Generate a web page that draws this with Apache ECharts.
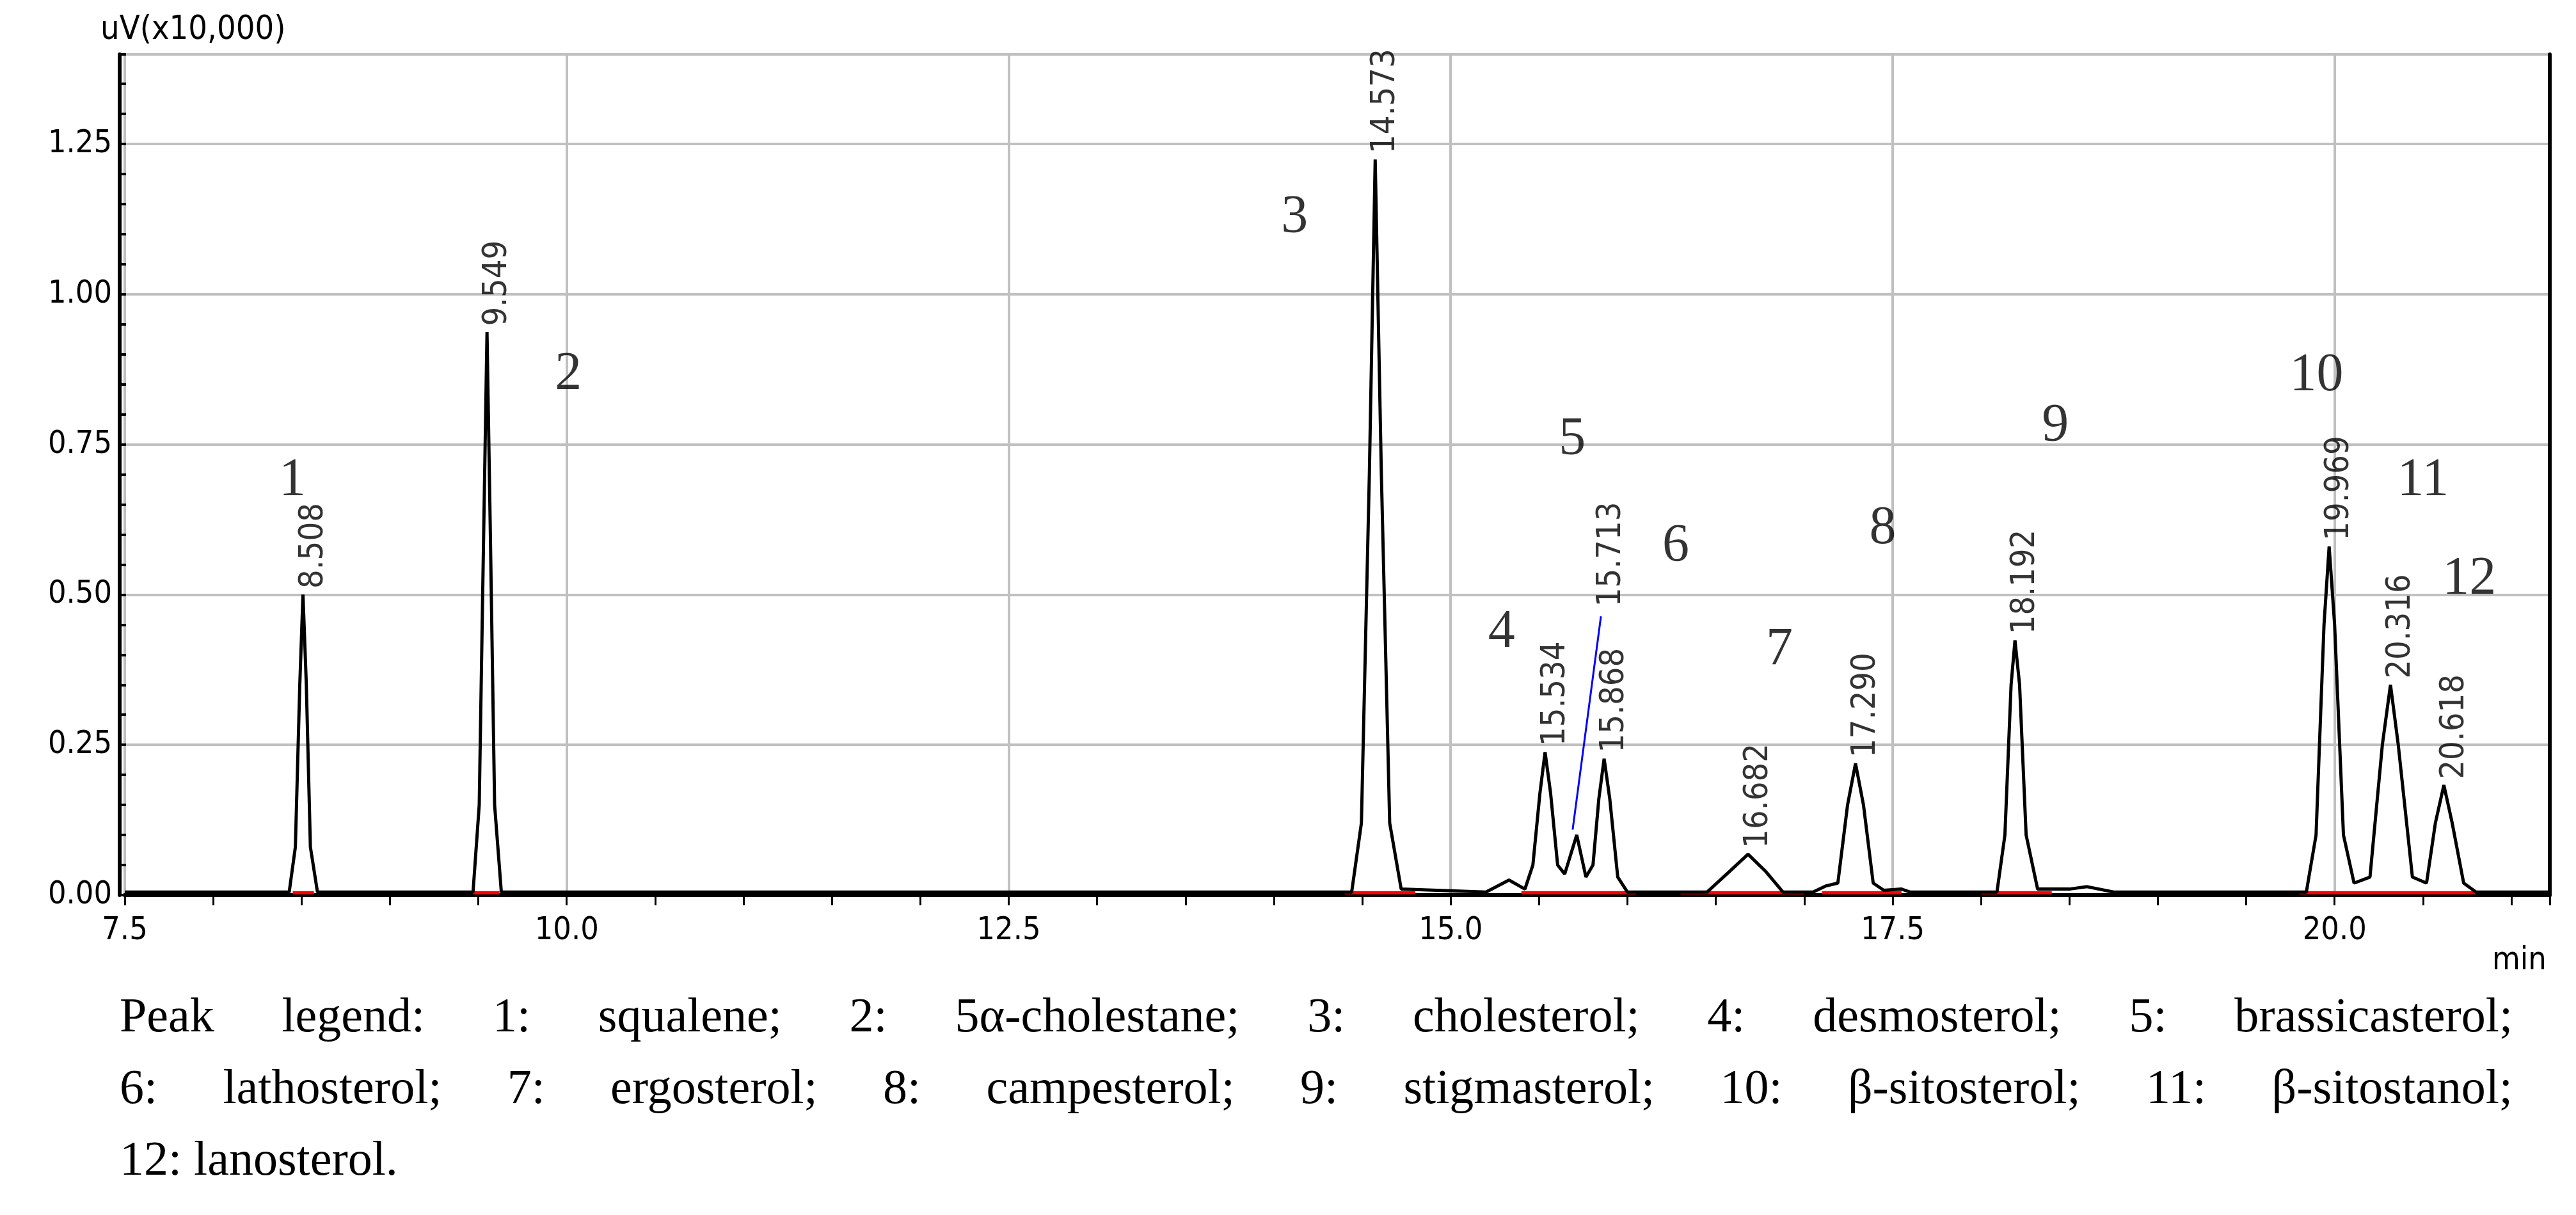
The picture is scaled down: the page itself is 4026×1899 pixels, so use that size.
<!DOCTYPE html>
<html><head><meta charset="utf-8">
<script src="https://cdn.jsdelivr.net/npm/echarts@6/dist/echarts.min.js"></script>
<style>
html,body{margin:0;padding:0;background:#fff;}
#c{position:absolute;left:0;top:0;width:4026px;height:1899px;}
#cap{position:absolute;left:187px;top:1530px;width:3740px;font-family:"Liberation Serif","DejaVu Serif",serif;font-size:76px;line-height:112px;color:#000;}
#cap .j{display:block;text-align:justify;text-align-last:justify;}
</style></head><body>
<div id="c"></div>
<div id="cap"><span class="j">Peak legend: 1: squalene; 2: 5α-cholestane; 3: cholesterol; 4: desmosterol; 5: brassicasterol;</span><span class="j">6: lathosterol; 7: ergosterol; 8: campesterol; 9: stigmasterol; 10: β-sitosterol; 11: β-sitostanol;</span><span>12: lanosterol.</span></div>
<script>
const traceTimes = [7.5,8.43,8.465,8.49,8.508,8.527,8.55,8.59,9.47,9.505,9.53,9.549,9.568,9.592,9.63,
14.44,14.495,14.54,14.573,14.608,14.655,14.72,15.2,15.33,15.42,15.465,15.505,15.534,15.565,15.605,15.645,15.713,15.765,15.805,15.838,15.868,15.9,15.945,16.0,
16.45,16.58,16.682,16.78,16.88,17.05,17.12,17.19,17.245,17.29,17.335,17.39,17.45,17.55,17.6,
18.09,18.135,18.17,18.192,18.218,18.255,18.32,18.5,18.6,18.75,
19.84,19.895,19.94,19.969,20.0,20.05,20.11,20.2,20.27,20.316,20.36,20.44,20.52,20.57,20.618,20.665,20.73,20.8,21.217];
const traceValues = [0.005,0.005,0.08,0.35,0.50,0.35,0.08,0.005,0.005,0.15,0.6,0.937,0.6,0.15,0.005,
0.005,0.12,0.7,1.224,0.7,0.12,0.01,0.005,0.025,0.01,0.05,0.17,0.238,0.17,0.05,0.035,0.10,0.03,0.05,0.16,0.227,0.16,0.03,0.005,
0.005,0.04,0.068,0.04,0.005,0.005,0.015,0.02,0.15,0.219,0.15,0.02,0.008,0.01,0.005,
0.005,0.1,0.35,0.424,0.35,0.1,0.01,0.01,0.014,0.005,
0.005,0.1,0.45,0.58,0.45,0.1,0.02,0.03,0.25,0.35,0.25,0.03,0.02,0.12,0.183,0.12,0.02,0.005,0.005];
const rtLabels = ['8.508','9.549','14.573','15.534','15.713','15.868','16.682','17.290','18.192','19.969','20.316','20.618'];
const rtX = [8.508,9.549,14.573,15.534,15.85,15.868,16.682,17.290,18.192,19.969,20.316,20.618];
const rtY = [0.50,0.937,1.224,0.238,0.47,0.227,0.068,0.219,0.424,0.58,0.35,0.183];
const peakNums = ['1','2','3','4','5','6','7','8','9','10','11','12'];
const peakNumX = [8.448,10.009,14.117,15.288,15.688,16.273,16.859,17.444,18.42,19.898,20.5,20.762];
const peakNumY = [0.689,0.866,1.126,0.437,0.757,0.579,0.407,0.609,0.779,0.863,0.689,0.525];
const redSegs = [[8.45,8.57],[9.47,9.62],[14.4,14.8],[15.4,16.05],[16.3,17.0],[17.1,17.55],[18.0,18.4],[19.8,20.8]];
const blueLine = [[15.69,0.109],[15.85,0.464]];

const trace = traceTimes.map((t,i)=>[t,traceValues[i]]);
const red = [];
redSegs.forEach(s=>{red.push([s[0],0.004]);red.push([s[1],0.004]);red.push([s[1],null]);});
const rt = rtX.map((x,i)=>({value:[x+0.06,rtY[i]+0.01],name:rtLabels[i]}));
const nums = peakNumX.map((x,i)=>({value:[x,peakNumY[i]],name:peakNums[i]}));
const ax = {fontFamily:'DejaVu Sans Condensed, Liberation Sans, sans-serif',fontSize:50,color:'#000'};
const chart = echarts.init(document.getElementById('c'));
chart.setOption({
  animation:false,
  grid:{left:195,right:41,top:85,bottom:500},
  xAxis:[{type:'value',min:7.5,max:21.217,interval:2.5,offset:13,
    axisLine:{lineStyle:{color:'#000',width:6}},
    axisTick:{show:true,length:16,lineStyle:{color:'#000',width:3}},
    minorTick:{show:true,splitNumber:5,length:16,lineStyle:{color:'#000',width:3}},
    axisLabel:{...ax,margin:18,formatter:v=>v.toFixed(1),showMaxLabel:false},
    splitLine:{show:true,lineStyle:{color:'#c0c0c0',width:4}},
    name:'min',nameLocation:'end',nameGap:-90,nameTextStyle:{...ax,padding:[78,0,0,0],verticalAlign:'top'}},
    {type:'value',position:'top',min:7.5,max:21.217,axisLine:{show:true,lineStyle:{color:'#000',width:6}},axisTick:{show:false},axisLabel:{show:false},splitLine:{show:false}}],
  yAxis:[{type:'value',min:0,max:1.399,interval:0.25,offset:8,
    axisLine:{show:true,lineStyle:{color:'#000',width:6}},
    axisTick:{show:true,inside:true,length:10,lineStyle:{color:'#000',width:4}},
    minorTick:{show:true,splitNumber:5,length:10,lineStyle:{color:'#000',width:4}},
    axisLabel:{...ax,margin:12,formatter:v=>v.toFixed(2),showMaxLabel:false},
    splitLine:{show:true,lineStyle:{color:'#c0c0c0',width:4}},
    name:'uV(x10,000)',nameLocation:'end',nameGap:12,nameTextStyle:{...ax,fontSize:52,align:'left',padding:[0,0,0,-30]}},
    {type:'value',position:'right',min:0,max:1.399,axisLine:{show:true,lineStyle:{color:'#000',width:6}},axisTick:{show:false},axisLabel:{show:false},splitLine:{show:false}}],
  series:[
    {type:'line',data:red,symbol:'none',connectNulls:false,lineStyle:{color:'#ff0000',width:5},z:3},
    {type:'line',data:trace,symbol:'none',lineStyle:{color:'#000',width:5},z:4},
    {type:'line',data:blueLine,symbol:'none',lineStyle:{color:'#0000ff',width:3},z:4},
    {type:'scatter',data:rt,symbolSize:0,z:5,label:{show:true,formatter:p=>p.name,rotate:90,position:'inside',align:'left',verticalAlign:'middle',...ax,fontSize:52}},
    {type:'scatter',data:nums,symbolSize:0,z:5,label:{show:true,formatter:p=>p.name,position:'inside',fontFamily:'Liberation Serif, serif',fontSize:84,color:'#000'}}
  ]
});
</script></body></html>
